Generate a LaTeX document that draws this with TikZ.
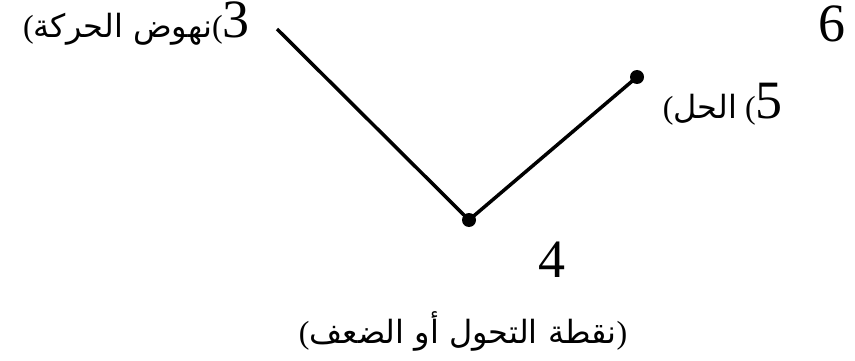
\documentclass[tikz,border=0pt]{standalone}
\usepackage{fontspec}
\setmainfont{Liberation Serif}
\newfontfamily\arabicfont[Script=Arabic]{DejaVu Sans}
\TeXXeTstate=1
\usetikzlibrary{positioning}
\newcommand\artext[1]{{\arabicfont\beginR #1\endR}}
\newcommand\stagenum[1]{{\fontsize{54}{58}\selectfont #1}}

\begin{document}
\begin{tikzpicture}[
    x=1pt, y=-1pt,
    dot/.style={circle, fill=black, inner sep=0pt, minimum size=14pt},
    phrase/.style={inner sep=0pt, font=\fontsize{32}{38}\selectfont},
    plot/.style={line width=3.5pt, line join=miter},
  ]
    \useasboundingbox (0,0) rectangle (855,361);
    % points of the curve
    \coordinate (rise) at (277,29);
    \node[dot] (turn) at (469,220) {};
    \node[dot] (resolve) at (637,77) {};
    \draw[plot] (rise) -- (turn.center) -- (resolve.center);
    % labels
    \node[phrase, anchor=base east] (risetext) at (250,38) {(\artext{نهوض الحركة}(\stagenum{3}};
    \node[phrase, anchor=base] (six) at (832,42) {\stagenum{6}};
    \node[phrase, anchor=base east] (resolvetext) at (783,119) {(\artext{الحل} (\stagenum{5}};
    \node[phrase, anchor=base] (four) at (552,277) {\stagenum{4}};
    \node[phrase, anchor=base] (turntext) at (463,343) {(\artext{نقطة التحول أو الضعف})};
  \end{tikzpicture}
\end{document}
